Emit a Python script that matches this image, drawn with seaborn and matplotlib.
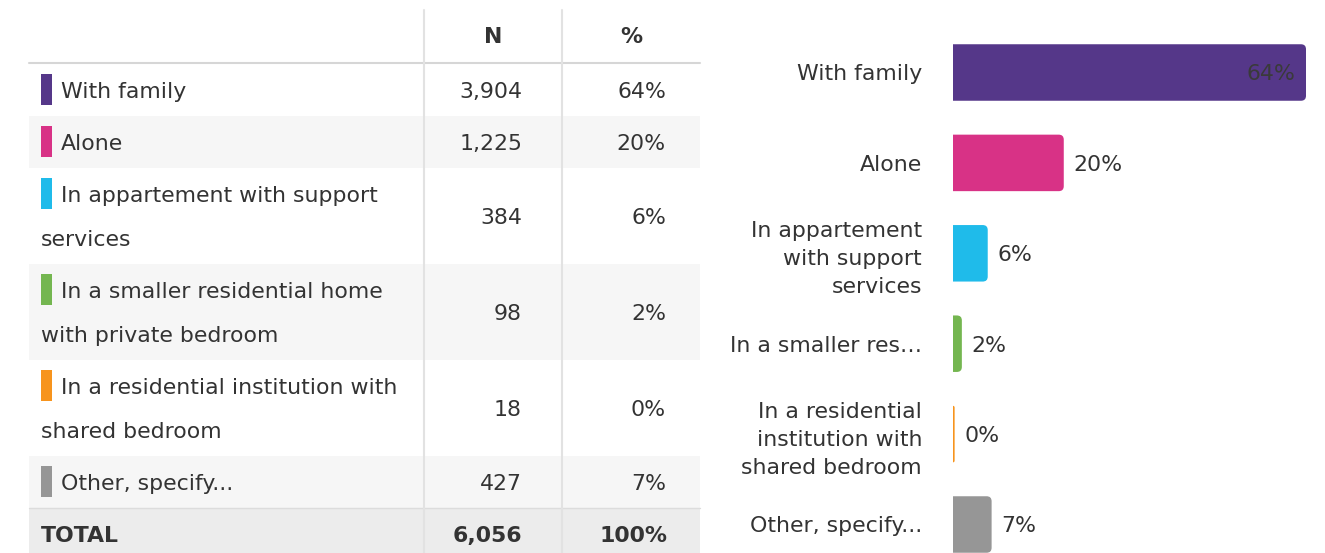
import numpy as np
import pandas as pd
import seaborn as sns
import matplotlib.pyplot as plt
from matplotlib.patches import Rectangle, FancyBboxPatch

# ---- data -------------------------------------------------------------
categories = [
    "With family",
    "Alone",
    "In appartement with support services",
    "In a smaller residential home with private bedroom",
    "In a residential institution with shared bedroom",
    "Other, specify...",
]
counts = [3904, 1225, 384, 98, 18, 427]
colors = ["#553789", "#d83286", "#1fbbea", "#74b650", "#f7941d", "#969696"]

# wrapped label text for the table and for the bar axis
table_lines = [
    ["With family"],
    ["Alone"],
    ["In appartement with support", "services"],
    ["In a smaller residential home", "with private bedroom"],
    ["In a residential institution with", "shared bedroom"],
    ["Other, specify..."],
]
axis_labels = [
    "With family",
    "Alone",
    "In appartement\nwith support\nservices",
    "In a smaller res\u2026",
    "In a residential\ninstitution with\nshared bedroom",
    "Other, specify...",
]
col_headers = ["N", "%"]
total_label = "TOTAL"

total = sum(counts)
pct = [c / total * 100 for c in counts]

# ---- style ------------------------------------------------------------
sns.set_theme(style="white")
plt.rcParams["font.family"] = ["DejaVu Sans"]
TEXT = "#333333"
FS = 15.8

W, H = 1325, 553
fig = plt.figure(figsize=(W / 100, H / 100), dpi=100)
fig.patch.set_facecolor("white")

# ---- table (pixel coordinates) ---------------------------------------
tab = fig.add_axes([0, 0, 1, 1])
tab.set_xlim(0, W)
tab.set_ylim(H, 0)
tab.axis("off")

x_left, x_sep1, x_sep2, x_right = 29, 424, 562, 700
n_right, p_right = 522, 666
header_top, header_bottom = 10, 63
single_h, line_step, base_off = 52, 44, 34

# header
tab.text((x_sep1 + x_sep2) / 2, header_top + 33, col_headers[0], ha="center",
         va="baseline", fontsize=FS, fontweight="bold", color=TEXT)
tab.text((x_sep2 + x_right) / 2, header_top + 33, col_headers[1], ha="center",
         va="baseline", fontsize=FS, fontweight="bold", color=TEXT)

y = header_bottom + 1
for i, (lines, n, p, c) in enumerate(zip(table_lines, counts, pct, colors)):
    h = single_h + line_step * (len(lines) - 1)
    if i % 2 == 1:
        tab.add_patch(Rectangle((x_left, y), x_right - x_left, h,
                                fc="#f6f6f6", ec="none", zorder=0))
    base = y + base_off
    tab.add_patch(Rectangle((41, base - 24), 11, 31, fc=c, ec="none", zorder=2))
    for j, ln in enumerate(lines):
        tab.text(61 if j == 0 else 41, base + j * line_step, ln, ha="left",
                 va="baseline", fontsize=FS, color=TEXT)
    mid = base + line_step * (len(lines) - 1) / 2
    tab.text(n_right, mid, f"{n:,}", ha="right", va="baseline", fontsize=FS, color=TEXT)
    tab.text(p_right, mid, f"{p:.0f}%", ha="right", va="baseline", fontsize=FS, color=TEXT)
    y += h

# total row
tab.add_patch(Rectangle((x_left, y), x_right - x_left, single_h,
                        fc="#ececec", ec="none", zorder=0))
tab.plot([x_left, x_right], [y, y], color="#dcdcdc", lw=1, zorder=1)
tab.text(41, y + base_off, total_label, ha="left", va="baseline",
         fontsize=FS, fontweight="bold", color=TEXT)
tab.text(n_right, y + base_off, f"{total:,}", ha="right", va="baseline",
         fontsize=FS, fontweight="bold", color=TEXT)
tab.text(p_right + 1, y + base_off, f"{sum(pct):.0f}%", ha="right", va="baseline",
         fontsize=FS, fontweight="bold", color=TEXT)

# rules
tab.plot([x_left, x_right], [header_bottom - 0.5, header_bottom - 0.5],
         color="#d6d6d6", lw=1.5, zorder=3)
for xs in (x_sep1, x_sep2):
    tab.plot([xs, xs], [header_top, H], color="#e2e2e2", lw=1.5, zorder=3)

# ---- bar chart ---------------------------------------------------------
bar_left, bar_right = 953, 1306
first_c, step = 72.5, 90.4
ax_top = first_c - step / 2
ax_h = step * len(counts)
ax = fig.add_axes([bar_left / W, (H - ax_top - ax_h) / H,
                   (bar_right - bar_left) / W, ax_h / H])

df = pd.DataFrame({"label": axis_labels, "pct": pct})
sns.barplot(data=df, x="pct", y="label", hue="label", palette=colors,
            legend=False, orient="h", width=0.625, saturation=1, ax=ax)
ax.set_xlim(0, max(pct))
ax.set_ylim(len(counts) - 0.5, -0.5)
ax.set_xlabel("")
ax.set_ylabel("")
ax.set_xticks([])
ax.set_facecolor("none")
sns.despine(ax=ax, left=True, bottom=True)
ax.tick_params(axis="y", length=0, pad=22.3)
for t in ax.get_yticklabels():
    t.set_fontsize(FS)
    t.set_color(TEXT)
    t.set_linespacing(1.48)

# round the right-hand end of every bar
p0 = ax.transData.transform((0, 0))
p1 = ax.transData.transform((1, 1))
xpx, ypx = abs(p1[0] - p0[0]), abs(p1[1] - p0[1])
aspect = xpx / ypx
for patch in list(ax.patches):
    bx, by = patch.get_x(), patch.get_y()
    bw, bh = patch.get_width(), patch.get_height()
    fc = patch.get_facecolor()
    r = min(5.0, bw * xpx) / xpx
    rounded = FancyBboxPatch((bx - r, by), bw + r, bh,
                             boxstyle=f"round,pad=0,rounding_size={r}",
                             mutation_aspect=aspect, fc=fc, ec="none")
    patch.remove()
    ax.add_patch(rounded)

# value labels
xmax = max(pct)
for i, p in enumerate(pct):
    txt = f"{p:.0f}%"
    if p > 0.8 * xmax:
        ax.annotate(txt, (p, i), xytext=(-7.9, 0), textcoords="offset points",
                    ha="right", va="center_baseline", fontsize=FS, color="#3a3a3a")
    else:
        ax.annotate(txt, (p, i), xytext=(7.2, 0), textcoords="offset points",
                    ha="left", va="center_baseline", fontsize=FS, color=TEXT)

fig.savefig("out.png", dpi=100, facecolor="white")
